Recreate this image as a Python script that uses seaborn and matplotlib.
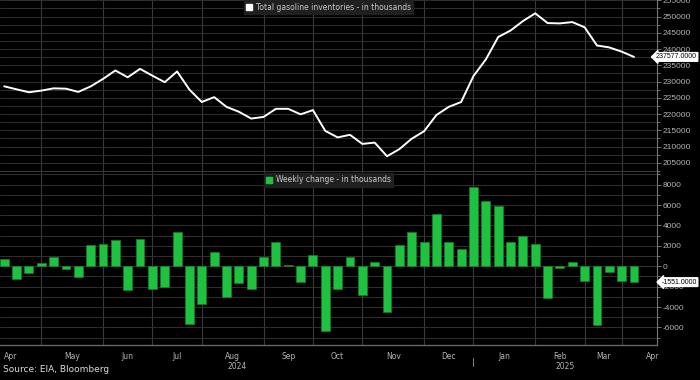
import matplotlib
matplotlib.use("Agg")
import matplotlib.pyplot as plt
import matplotlib.transforms as mtransforms
from matplotlib import font_manager
from matplotlib.lines import Line2D
from matplotlib.ticker import MultipleLocator, FixedLocator, NullFormatter
import pandas as pd
import seaborn as sns

# weekly data, 52 weeks (Apr 2024 - Mar 2025), thousands of barrels
inventory = [228530, 227600, 226700, 227200, 227900, 227800, 226800, 228500,
             230800, 233400, 231300, 233900, 231800, 229800, 233100, 227500,
             223700, 225200, 222200, 220700, 218600, 219100, 221600, 221600,
             219900, 221200, 214800, 212800, 213600, 210800, 211200, 207000,
             209200, 212400, 214700, 219700, 222200, 223700, 231700, 236800,
             243700, 245700, 248600, 251000, 248000, 247900, 248300, 246700,
             241100, 240500, 239200, 237577]
weekly_change = [720, -1240, -620, 330, 950, -290, -1010, 2060,
                 2160, 2580, -2290, 2680, -2250, -2030, 3330, -5650,
                 -3730, 1370, -2970, -1670, -2250, 880, 2350, 130,
                 -1570, 1110, -6300, -2250, 910, -2780, 420, -4480,
                 2060, 3330, 2390, 5130, 2390, 1670, 7750, 6370,
                 5920, 2390, 2970, 2220, -3070, -200, 390, -1470,
                 -5780, -520, -1470, -1551]
month_labels = ["Apr", "May", "Jun", "Jul", "Aug", "Sep", "Oct",
                "Nov", "Dec", "Jan", "Feb", "Mar", "Apr"]
year_labels = ["2024", "2025"]
# week index where each new month starts
month_starts = [3, 8, 12, 16, 21, 25, 29, 34, 38, 43, 47, 50]
year_start = 38

df = pd.DataFrame({"week": range(len(inventory)),
                   "inventory": inventory,
                   "change": weekly_change})

sns.set_theme(style="dark")
plt.rcParams["font.family"] = ["DejaVu Sans"]

# narrower font for the small axis numbers, if there is one
installed = {f.name for f in font_manager.fontManager.ttflist}
narrow = next((n for n in ["Liberation Sans Narrow", "Liberation Sans"] if n in installed),
              "DejaVu Sans")

BG = "black"
GRID = "#303030"
TXT = "#b4b4b4"
GREEN = "#20c040"

fig = plt.figure(figsize=(7, 3.8), dpi=100, facecolor=BG)
ax1 = fig.add_axes([0, 1 - 172 / 380, 657 / 700, 172 / 380])
ax2 = fig.add_axes([0, 1 - 345 / 380, 657 / 700, 173 / 380], sharex=ax1)

sns.lineplot(data=df, x="week", y="inventory", ax=ax1, color="white", linewidth=1.4)
sns.barplot(data=df, x="week", y="change", ax=ax2, color=GREEN, native_scale=True,
            width=0.72, edgecolor="#12802a", linewidth=0.5, saturation=1)

xmin, xmax = -0.34, 52.86
ax1.set_xlim(xmin, xmax)
ax1.set_ylim(202150, 255100)
ax2.set_ylim(-7716, 9245)

for ax in (ax1, ax2):
    ax.set_facecolor(BG)
    ax.set_xlabel("")
    ax.set_ylabel("")
    ax.yaxis.tick_right()
    ax.tick_params(axis="y", which="both", direction="out", colors="#888888",
                   labelcolor=TXT, labelsize=6, length=3, width=0.6, pad=1)
    ax.tick_params(axis="y", which="minor", length=2)
    for t in ax.get_yticklabels():
        t.set_fontfamily(narrow)
    ax.grid(True, which="both", axis="y", color=GRID, linewidth=0.7)
    ax.xaxis.set_major_locator(FixedLocator(month_starts))
    ax.grid(True, which="major", axis="x", color="#3a3a3a", linewidth=0.8)
    for s in ("left", "top"):
        ax.spines[s].set_visible(False)
    ax.spines["right"].set_color("#777777")
    ax.spines["right"].set_linewidth(0.8)
    ax.spines["bottom"].set_color("#666666")
    ax.spines["bottom"].set_linewidth(1.0)

ax1.yaxis.set_major_locator(MultipleLocator(5000))
ax1.yaxis.set_minor_locator(MultipleLocator(2500))
ax1.yaxis.set_major_formatter(lambda v, p: f"{v:.0f}")
ax2.yaxis.set_major_locator(MultipleLocator(2000))
ax2.yaxis.set_minor_locator(MultipleLocator(1000))
ax2.yaxis.set_major_formatter(lambda v, p: f"{v:.0f}")
ax2.axhline(0, color="#555555", linewidth=0.7, zorder=0)

ax1.tick_params(axis="x", which="both", length=0, labelbottom=False)

# month labels centred between month-start ticks
edges = [-2] + month_starts + [55]
label_pos = [(a + b) / 2 for a, b in zip(edges[:-1], edges[1:])]
ax2.xaxis.set_minor_locator(FixedLocator(label_pos))
ax2.xaxis.set_minor_formatter(lambda v, p: month_labels[label_pos.index(v)])
ax2.xaxis.set_major_formatter(NullFormatter())
ax2.tick_params(axis="x", which="major", direction="out", length=3,
                color="#777777", width=0.7)
ax2.tick_params(axis="x", which="minor", length=0, labelsize=5.5,
                labelcolor=TXT, pad=5)

year_pos = [(xmin + year_start) / 2, (year_start + xmax) / 2]
for pos, lab in zip(year_pos, year_labels):
    ax2.text(pos, -0.1, lab, transform=ax2.get_xaxis_transform(), ha="center",
             va="top", fontsize=5.5, color=TXT, clip_on=False)
ax2.plot([year_start, year_start], [-0.075, -0.12], transform=ax2.get_xaxis_transform(),
         color="#888888", linewidth=0.7, clip_on=False)

# legends
h1 = [Line2D([], [], marker="s", color="white", linestyle="", markersize=5)]
h2 = [Line2D([], [], marker="s", color=GREEN, linestyle="", markersize=5)]
for ax, h, lab, bpad in ((ax1, h1, "Total gasoline inventories - in thousands", 0.0),
                         (ax2, h2, "Weekly change - in thousands", 0.1)):
    leg = ax.legend(h, [lab], loc="upper center", fontsize=5.5, frameon=True,
                    facecolor="#202020", edgecolor="#202020", framealpha=1,
                    borderaxespad=bpad, handlelength=0.8, handletextpad=0.4,
                    borderpad=0.35, fancybox=False)
    for t in leg.get_texts():
        t.set_color("#cccccc")

# last value tags, right-aligned to the figure edge
for ax, val in ((ax1, inventory[-1]), (ax2, weekly_change[-1])):
    tr = mtransforms.blended_transform_factory(fig.transFigure, ax.transData)
    ax.text(697 / 700, val, f"{val:.4f}", transform=tr, ha="right", va="center",
            fontsize=5.0, family=narrow, color="black", clip_on=False, zorder=5,
            bbox=dict(boxstyle="larrow,pad=0.12", fc="white", ec="white"))

fig.text(0.004, 0.017, "Source: EIA, Bloomberg", fontsize=6.5, color="#dddddd",
         ha="left", va="bottom")

fig.savefig("out.png", dpi=100, facecolor=BG)
